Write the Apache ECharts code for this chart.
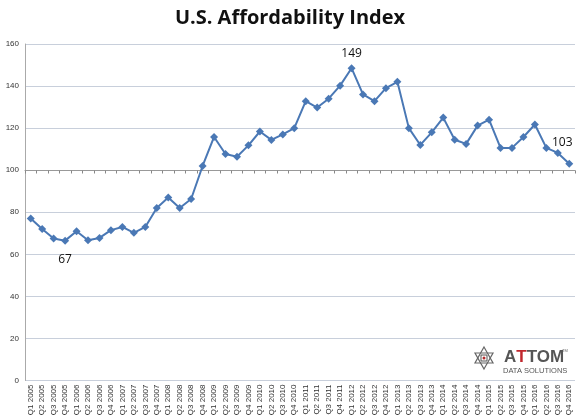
<!DOCTYPE html>
<html>
<head>
<meta charset="utf-8">
<script src="https://cdn.jsdelivr.net/npm/echarts@6/dist/echarts.min.js"></script>
<style>html,body{margin:0;padding:0;background:#fff}#c{width:580px;height:419px}</style>
</head>
<body>
<div id="c"></div>
<script>
const years = [2005,2006,2007,2008,2009,2010,2011,2012,2013,2014,2015,2016];
const categories = [];
years.forEach(y => { for (let q = 1; q <= 4; q++) categories.push('Q' + q + ' ' + y); });
const values = [
  77, 72, 67.5, 66.5, 71, 66.7, 67.8, 71.5,
  73, 70.2, 73, 82, 87, 82, 86.3, 102,
  115.8, 107.7, 106.4, 111.8, 118.4, 114.4, 117, 120,
  132.8, 129.8, 134, 140.2, 148.5, 136, 132.8, 139,
  142, 120, 112, 118, 125, 114.5, 112.5, 121.2,
  124, 110.6, 110.6, 115.8, 121.7, 110.6, 108.2, 103.1
];
const labelled = { 3: '67', 28: '149', 47: '103' };
const yTicks = { min: 0, max: 160, step: 20 };

const seriesData = values.map((v, i) => {
  if (labelled[i] === undefined) return v;
  const lab = { show: true, formatter: labelled[i], color: '#111', fontSize: 12, fontFamily: 'Open Sans' };
  if (i === 3) Object.assign(lab, { position: 'bottom', distance: 9 });
  else if (i === 28) Object.assign(lab, { position: 'top', distance: 5 });
  else Object.assign(lab, { position: 'top', distance: 11, offset: [-7, 0] });
  return { value: v, label: lab };
});

const chart = echarts.init(document.getElementById('c'), null, { renderer: 'canvas' });
chart.setOption({
  animation: false,
  backgroundColor: '#fff',
  title: {
    text: 'U.S. Affordability Index', left: 'center', top: 3,
    textStyle: { fontFamily: 'Open Sans', fontWeight: 'bold', fontSize: 20, color: '#111' }
  },
  grid: { left: 25, right: 5, top: 44, bottom: 38.5 },
  xAxis: [{
    type: 'category', data: categories, boundaryGap: true,
    axisLine: { show: false }, axisTick: { show: false },
    axisLabel: { rotate: 90, interval: 0, fontSize: 8, color: '#333', fontFamily: 'Liberation Sans', margin: 4 }
  }, {
    type: 'category', data: categories, boundaryGap: true, position: 'bottom', offset: -210,
    axisLine: { show: true, onZero: false, lineStyle: { color: '#999', width: 1 } },
    axisTick: { show: true, interval: 0, length: 3, lineStyle: { color: '#888' } },
    axisLabel: { show: false }
  }],
  yAxis: {
    type: 'value', min: yTicks.min, max: yTicks.max, interval: yTicks.step,
    axisLine: { show: true, lineStyle: { color: '#aaa' } },
    axisTick: { show: false },
    axisLabel: { fontSize: 8, color: '#333', fontFamily: 'Liberation Sans', margin: 6 },
    splitLine: { lineStyle: { color: '#c8cfdb', width: 1 } }
  },
  series: [{
    type: 'line', xAxisIndex: 0, data: seriesData,
    symbol: 'diamond', symbolSize: 8, showAllSymbol: true,
    lineStyle: { color: '#4a78b5', width: 2 },
    itemStyle: { color: '#4a78b5' },
    label: { show: false }
  }],
  graphic: [
    { type: 'polygon', shape: { points: [[484, 347], [493, 363], [475, 363]] }, style: { fill: 'none', stroke: '#666', lineWidth: 1.2 } },
    { type: 'polygon', shape: { points: [[484, 369], [493, 353], [475, 353]] }, style: { fill: 'none', stroke: '#666', lineWidth: 1.2 } },
    { type: 'rect', shape: { x: 481, y: 355, width: 6, height: 6 }, style: { fill: 'none', stroke: '#555', lineWidth: 1 } },
    { type: 'circle', shape: { cx: 484, cy: 358, r: 1.5 }, style: { fill: '#b52a2a' } },
    { type: 'text', left: 504, top: 349, style: { text: '{a|A}{t|T}{b|TOM}', rich: {
        a: { fontFamily: 'Liberation Sans', fontWeight: 'bold', fontSize: 17, fill: '#555' },
        t: { fontFamily: 'Liberation Sans', fontWeight: 'bold', fontSize: 17, fill: '#c0272d' },
        b: { fontFamily: 'Liberation Sans', fontWeight: 'bold', fontSize: 17, fill: '#555' } } } },
    { type: 'text', left: 562, top: 349, style: { text: 'TM', fontSize: 4, fill: '#666', fontFamily: 'Liberation Sans' } },
    { type: 'text', left: 503, top: 367, style: { text: 'DATA SOLUTIONS', fontSize: 7.5, fill: '#555', fontFamily: 'Liberation Sans' } }
  ]
});
</script>
</body>
</html>
